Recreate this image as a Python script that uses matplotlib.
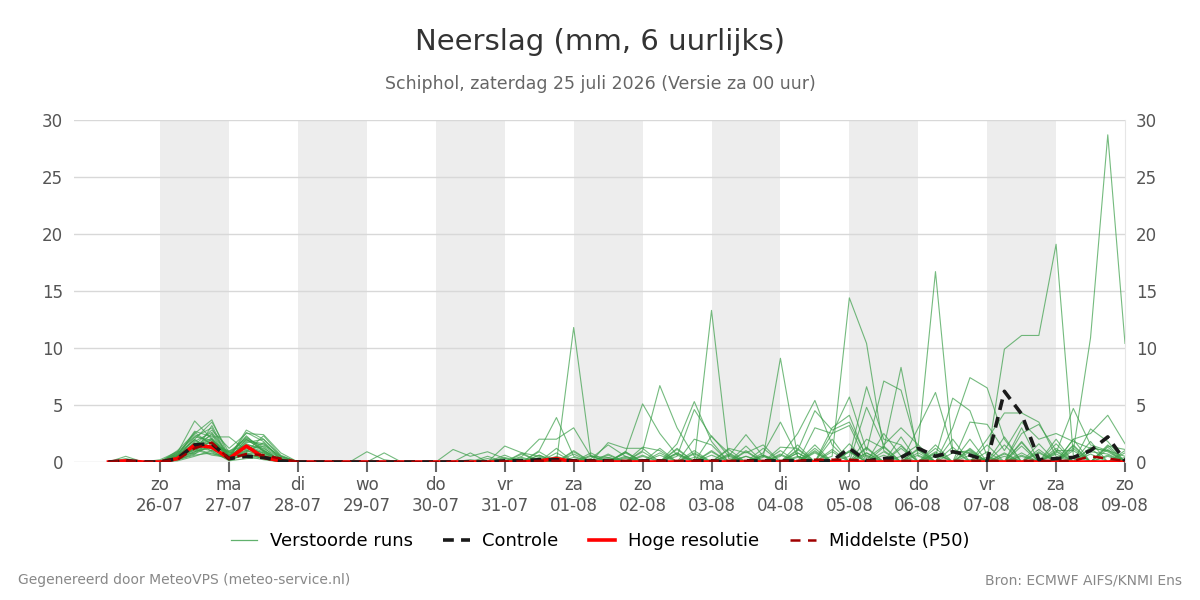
import matplotlib
matplotlib.use("Agg")
import matplotlib.pyplot as plt
from matplotlib.lines import Line2D

# 6-hourly steps, index 0 = za 25-07 06:00, index 59 = zo 09-08 00:00
n_steps = 60

day_ticks = [3, 7, 11, 15, 19, 23, 27, 31, 35, 39, 43, 47, 51, 55, 59]
day_names = ["zo", "ma", "di", "wo", "do", "vr", "za", "zo", "ma", "di", "wo", "do", "vr", "za", "zo"]
day_dates = ["26-07", "27-07", "28-07", "29-07", "30-07", "31-07", "01-08", "02-08",
             "03-08", "04-08", "05-08", "06-08", "07-08", "08-08", "09-08"]
shaded_days = [(3, 7), (11, 15), (19, 23), (27, 31), (35, 39), (43, 47), (51, 55)]

# first rain event, values for index 3..10 per member
early = [
    [0, 0.8, 3.6, 2.0, 0.5, 1.5, 1.2, 0.3],
    [0, 1.0, 2.5, 3.7, 0.4, 2.8, 2.0, 0.5],
    [0.1, 0.5, 2.0, 3.5, 0.8, 2.0, 1.0, 0.2],
    [0, 0.3, 1.5, 2.8, 1.2, 2.5, 2.4, 0.8],
    [0, 0.6, 2.7, 2.2, 2.2, 1.0, 0.5, 0],
    [0.2, 0.9, 2.2, 3.0, 0.2, 1.8, 1.5, 0.5],
    [0, 0.4, 1.8, 2.6, 0.6, 1.2, 0.8, 0.1],
    [0, 0.2, 1.2, 2.0, 0.3, 0.9, 2.3, 0.6],
    [0, 0.7, 2.4, 1.6, 0.9, 2.1, 1.3, 0],
    [0, 0.5, 1.0, 1.8, 0.4, 2.6, 1.8, 0.3],
    [0, 0.3, 0.9, 1.4, 0.2, 1.4, 0.9, 0],
    [0, 0.6, 1.6, 1.2, 0.5, 1.6, 1.0, 0.2],
    [0, 0.4, 2.2, 1.9, 0.7, 2.2, 1.1, 0],
    [0, 0.3, 1.4, 2.4, 0.1, 0.8, 0.6, 0],
    [0, 0.8, 1.9, 1.1, 0.6, 1.9, 1.6, 0.4],
    [0, 0.5, 2.6, 1.5, 1.0, 1.4, 0.7, 0],
    [0, 0.2, 0.8, 3.2, 0.3, 1.1, 1.4, 0.3],
    [0.1, 0.7, 1.3, 2.1, 0.5, 2.3, 0.9, 0],
    [0, 0.4, 1.7, 1.3, 0.9, 0.6, 0.4, 0],
    [0, 0.6, 1.1, 2.5, 0.4, 1.7, 2.0, 0.5],
    [0, 0.5, 2.0, 0.9, 0.3, 1.3, 0.8, 0],
    [0, 0.3, 1.5, 1.7, 0.8, 0.9, 1.7, 0.2],
    [0, 0.9, 0.7, 2.0, 0.2, 2.0, 1.0, 0],
    [0, 0.4, 1.3, 1.0, 0.6, 1.5, 0.5, 0],
    [0, 0.2, 0.6, 0.8, 0.2, 0.7, 0.3, 0],
    [0, 0.3, 1.1, 0.6, 0.4, 0.5, 0.2, 0],
    [0, 0.1, 0.5, 1.0, 0.1, 0.3, 0.4, 0],
    [0, 0.2, 0.7, 1.5, 0.3, 1.0, 0.6, 0],
    [0, 0.4, 1.2, 0.7, 0.5, 0.8, 0.3, 0],
    [0, 0.3, 0.9, 1.3, 0.2, 0.6, 0.5, 0],
]

# later rain per member, {step index: mm}
later = [
    {27: 11.8, 28: 0.5, 31: 0.6, 40: 0.4, 48: 0.8, 53: 0.5},
    {26: 0.8, 35: 13.3, 36: 0.3, 45: 0.6, 50: 1.0},
    {38: 0.4, 39: 9.1, 40: 0.5, 24: 0.4, 47: 1.2, 55: 0.7},
    {31: 1.0, 32: 6.7, 33: 3.0, 34: 0.5, 44: 0.8, 52: 1.5},
    {30: 0.8, 31: 5.1, 32: 2.5, 33: 0.6, 42: 0.9, 57: 1.2},
    {33: 1.6, 34: 5.3, 35: 1.8, 46: 1.4, 54: 0.8},
    {33: 0.5, 34: 4.6, 35: 2.2, 36: 0.8, 40: 1.5, 49: 2.0},
    {42: 0.5, 43: 14.4, 44: 10.4, 45: 1.0, 29: 0.6, 56: 1.0},
    {46: 0.5, 47: 1.5, 48: 16.7, 49: 1.0, 27: 0.7, 58: 1.4},
    {50: 0.2, 51: 0.2, 52: 9.9, 53: 11.1, 54: 11.1, 55: 19.1, 56: 0.6, 37: 0.5},
    {55: 1.0, 56: 1.0, 57: 10.9, 58: 28.7, 59: 10.4, 41: 0.8},
    {42: 2.5, 43: 5.7, 44: 1.0, 45: 7.1, 46: 6.3, 47: 1.0, 53: 1.8},
    {44: 2.0, 45: 1.2, 46: 8.3, 47: 0.5, 36: 0.7, 57: 0.9},
    {43: 0.5, 44: 6.6, 45: 2.0, 46: 1.5, 30: 0.9, 52: 2.2},
    {42: 3.0, 43: 4.1, 44: 0.3, 47: 3.0, 48: 6.1, 49: 1.0, 56: 1.5},
    {48: 0.5, 49: 5.6, 50: 4.5, 51: 0.5, 32: 1.2, 58: 0.9},
    {49: 3.0, 50: 7.4, 51: 6.5, 52: 2.0, 41: 1.5, 56: 2.0},
    {51: 2.0, 52: 4.3, 53: 4.3, 54: 3.5, 55: 0.5, 38: 1.2},
    {55: 0.8, 56: 4.7, 57: 1.5, 58: 1.0, 44: 1.2, 33: 0.8},
    {56: 2.0, 57: 2.5, 58: 4.1, 59: 1.6, 47: 0.8, 35: 1.0},
    {39: 0.5, 40: 2.5, 41: 5.4, 42: 1.5, 50: 1.2, 54: 1.6},
    {40: 1.0, 41: 4.5, 42: 2.8, 43: 3.5, 44: 0.5, 55: 2.0},
    {25: 1.0, 26: 3.9, 27: 0.5, 38: 0.8, 39: 3.5, 40: 0.5, 51: 1.5},
    {24: 0.5, 25: 2.0, 26: 2.0, 27: 3.0, 28: 0.5, 46: 2.2, 57: 1.8},
    {28: 0.3, 29: 1.5, 30: 0.5, 33: 1.2, 40: 0.8, 45: 2.5, 46: 0.5, 53: 3.0},
    {1: 0.5, 15: 0.9, 16: 0.2, 20: 1.1, 21: 0.5, 22: 0.9, 23: 0.3, 34: 1.0, 48: 1.5},
    {1: 0.3, 16: 0.8, 21: 0.8, 23: 1.4, 24: 0.8, 25: 0.5, 37: 1.4, 50: 2.0},
    {31: 1.3, 32: 1.0, 35: 2.3, 36: 0.5, 37: 2.4, 38: 0.5, 41: 3.0, 42: 2.5, 43: 3.2,
     53: 2.5, 54: 3.3, 55: 1.0},
    {29: 1.7, 30: 1.2, 31: 1.2, 36: 1.2, 37: 0.8, 38: 1.5, 44: 4.8, 45: 1.5, 46: 3.0,
     47: 1.5, 57: 2.9, 58: 1.8},
    {30: 0.8, 34: 2.0, 35: 1.5, 39: 1.3, 40: 1.2, 42: 2.0, 50: 3.5, 51: 3.3, 52: 1.0,
     53: 3.5, 54: 2.0, 55: 2.5, 56: 1.8, 57: 1.2, 58: 1.0, 59: 0.5},
]

# light showers that fill the 0-2 mm band, only where no value above
drizzle = [
    {22: 0.3, 25: 0.6, 29: 0.4, 34: 0.8, 37: 0.5, 44: 0.6, 51: 0.4, 57: 0.7},
    {23: 0.4, 28: 0.6, 31: 0.9, 38: 0.6, 42: 1.1, 49: 0.8, 55: 1.2},
    {21: 0.2, 26: 1.2, 30: 0.5, 33: 0.8, 43: 0.9, 50: 0.6, 58: 0.5},
    {24: 0.7, 27: 0.4, 37: 0.9, 41: 1.2, 47: 0.6, 54: 0.9, 59: 0.8},
    {25: 0.9, 28: 0.2, 36: 1.1, 39: 0.7, 45: 1.3, 52: 0.5, 55: 0.9},
    {24: 0.3, 29: 0.7, 38: 0.5, 41: 0.9, 43: 1.6, 50: 1.1, 58: 1.3},
    {22: 0.5, 27: 1.0, 30: 0.4, 38: 0.6, 43: 1.0, 52: 0.7, 56: 1.4},
    {25: 0.4, 31: 0.5, 35: 0.9, 39: 0.6, 47: 1.1, 52: 0.8, 58: 0.6},
    {23: 0.6, 30: 0.9, 34: 0.4, 41: 1.0, 44: 0.8, 53: 1.4, 59: 1.1},
    {24: 0.2, 28: 0.8, 32: 0.6, 40: 1.1, 45: 0.9, 48: 1.2, 58: 1.5},
    {26: 0.5, 30: 0.3, 36: 0.6, 44: 1.3, 48: 0.7, 51: 0.9, 53: 0.6},
    {27: 0.9, 33: 0.7, 37: 1.0, 40: 0.5, 50: 0.9, 56: 1.2, 59: 1.0},
    {25: 0.6, 29: 0.4, 33: 1.1, 40: 0.8, 49: 1.3, 53: 0.8, 58: 0.7},
    {23: 0.3, 28: 0.5, 34: 0.7, 39: 1.0, 48: 0.9, 55: 1.6, 58: 1.1},
    {26: 0.4, 32: 0.8, 36: 0.5, 45: 1.4, 50: 0.8, 54: 1.1, 59: 0.4},
    {24: 0.8, 29: 0.3, 35: 0.6, 43: 0.9, 46: 1.2, 53: 1.7, 57: 1.3},
]

control = [0, 0.1, 0, 0, 0.3, 1.5, 1.6, 0.3, 0.5, 0.4, 0.1, 0, 0, 0, 0, 0, 0, 0, 0, 0,
           0, 0, 0, 0.1, 0.1, 0.2, 0.2, 0.1, 0.1, 0.1, 0, 0.1, 0.1, 0, 0.1, 0.1, 0, 0.1, 0.1, 0.1,
           0.1, 0.1, 0.1, 1.2, 0.1, 0.3, 0.4, 1.2, 0.5, 0.9, 0.6, 0.1, 6.2, 4.2, 0.2, 0.3, 0.4, 1.0, 2.2, 0.1]
hires = [0, 0.1, 0, 0, 0.3, 1.5, 1.3, 0.3, 1.4, 0.4, 0.1, 0, 0, 0, 0, 0, 0, 0, 0, 0,
         0, 0, 0, 0, 0, 0.1, 0.3, 0, 0, 0, 0, 0, 0, 0, 0, 0, 0, 0, 0, 0,
         0, 0, 0, 0, 0, 0, 0, 0, 0, 0, 0, 0, 0, 0, 0, 0, 0, 0, 0, 0]
p50 = [0, 0.1, 0, 0, 0.2, 1.2, 1.7, 0.3, 0.7, 0.6, 0.3, 0, 0, 0, 0, 0, 0, 0, 0, 0,
       0, 0, 0, 0.05, 0.05, 0.1, 0.1, 0.1, 0.1, 0.1, 0.1, 0.1, 0.1, 0.1, 0.1, 0.1, 0.1, 0.1, 0.1, 0.1,
       0.1, 0.2, 0.2, 0.2, 0.1, 0.1, 0.1, 0.1, 0.1, 0.1, 0.1, 0.1, 0.1, 0.1, 0.1, 0.1, 0.1, 0.5, 0.3, 0.1]


def member_series(first, rest, light):
    vals = [0.0] * n_steps
    for k, v in enumerate(first):
        vals[3 + k] = v
    for idx, v in light.items():
        vals[idx] = v
    for idx, v in rest.items():
        vals[idx] = v
    return vals


steps = list(range(n_steps))

fig = plt.figure(figsize=(12, 6), dpi=100)
ax = fig.add_axes([0.0617, 0.23, 0.8758, 0.57])

for a, b in shaded_days:
    ax.axvspan(a, b, color="#ededed", lw=0, zorder=0)

green = "#3a9e48"
for i, (first, rest) in enumerate(zip(early, later)):
    light = drizzle[i] if i < len(drizzle) else {}
    ax.plot(steps, member_series(first, rest, light), color=green, lw=0.8, alpha=0.7, zorder=2)

ax.plot(steps, hires, color="#ff0000", lw=2.6, zorder=4)
ax.plot(steps, control, color="#1a1a1a", lw=2.6, ls=(0, (3, 2)), zorder=5)
ax.plot(steps, p50, color="#a00000", lw=1.8, ls=(0, (4, 3)), zorder=6)

ax.set_xlim(-2, 59)
ax.set_ylim(0, 30)
ax.set_yticks([0, 5, 10, 15, 20, 25, 30])
ax.grid(axis="y", color="#d8d8d8", lw=1)
ax.set_axisbelow(True)
for s in ["top", "left", "bottom"]:
    ax.spines[s].set_visible(False)
ax.spines["right"].set_color("#e6e6e6")

ax.set_xticks(day_ticks)
ax.set_xticklabels([f"{n}\n{d}" for n, d in zip(day_names, day_dates)])
ax.tick_params(axis="x", length=7, width=1.5, color="#666666", labelsize=12,
               labelcolor="#555555", pad=3)
ax.tick_params(axis="y", length=0, labelsize=12, labelcolor="#555555",
               labelright=True, right=False, pad=8)

fig.text(0.5, 0.93, "Neerslag (mm, 6 uurlijks)", ha="center", va="center",
         fontsize=21, color="#333333")
fig.text(0.5, 0.86, "Schiphol, zaterdag 25 juli 2026 (Versie za 00 uur)", ha="center",
         va="center", fontsize=12.5, color="#666666")

handles = [
    Line2D([], [], color=green, lw=0.9, alpha=0.8),
    Line2D([], [], color="#1a1a1a", lw=2.6, ls=(0, (3, 2))),
    Line2D([], [], color="#ff0000", lw=2.6),
    Line2D([], [], color="#a00000", lw=1.8, ls=(0, (4, 3))),
]
fig.legend(handles, ["Verstoorde runs", "Controle", "Hoge resolutie", "Middelste (P50)"],
           loc="center", bbox_to_anchor=(0.5, 0.098), ncol=4, frameon=False,
           fontsize=13, handlelength=1.45, handletextpad=0.7, columnspacing=1.7)

fig.text(0.015, 0.033, "Gegenereerd door MeteoVPS (meteo-service.nl)", ha="left",
         va="center", fontsize=10, color="#888888")
fig.text(0.985, 0.033, "Bron: ECMWF AIFS/KNMI Ens", ha="right", va="center",
         fontsize=10, color="#888888")

fig.savefig("out.png", dpi=100)
